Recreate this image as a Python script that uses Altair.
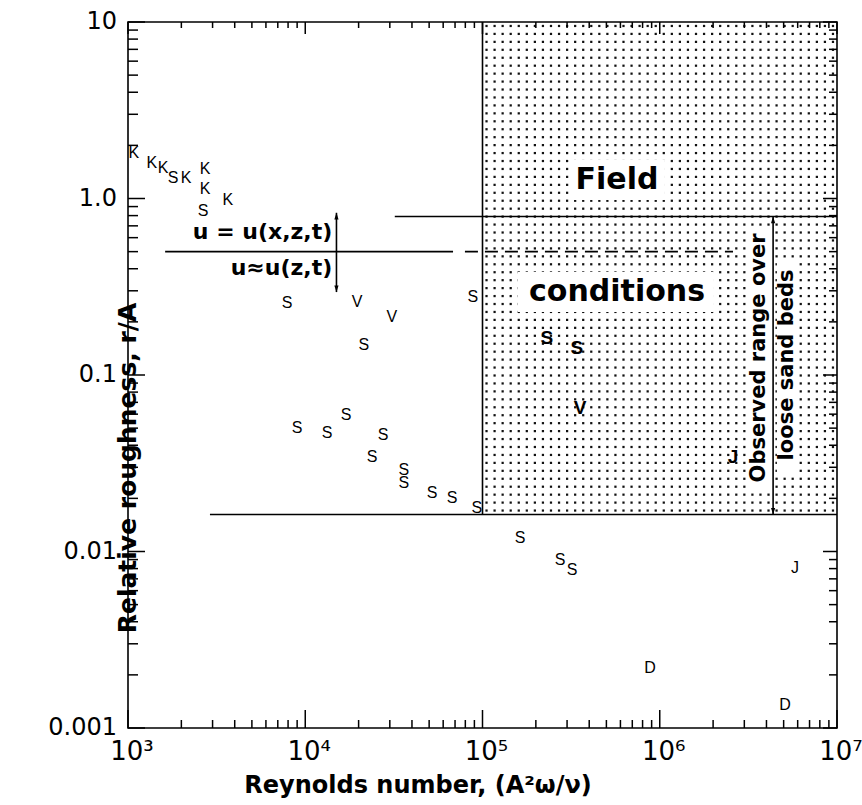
import math
import altair as alt
import pandas as pd

# ---------------- data ----------------
# laboratory / other points (thin letters)
pt_letter = ["K", "K", "K", "S", "K", "K", "K", "S", "K",
             "S", "V", "V", "S", "S",
             "S", "S", "S", "S", "S", "S", "S", "S", "S", "S",
             "S", "S", "S", "J", "D", "D"]
pt_re = [1080, 1365, 1575, 1795, 2125, 2720, 2720, 2650, 3660,
         7900, 19600, 30800, 21400, 88300,
         8980, 13300, 17000, 27500, 23800, 36000, 36000, 51900, 67300, 93000,
         163000, 274000, 320000, 5.79e6, 8.81e5, 5.09e6]
pt_rr = [1.81, 1.59, 1.49, 1.31, 1.31, 1.46, 1.13, 0.85, 0.98,
         0.256, 0.26, 0.213, 0.148, 0.277,
         0.050, 0.047, 0.059, 0.0457, 0.0343, 0.0290, 0.0244, 0.0214, 0.0201, 0.0176,
         0.0119, 0.0090, 0.0079, 0.0081, 0.0022, 0.00135]

# points lying in the field-conditions region (bold letters)
fld_letter = ["S", "S", "V", "J"]
fld_re = [231000, 341000, 355000, 2.59e6]
fld_rr = [0.162, 0.142, 0.065, 0.0343]

# stippled "field conditions" region
region_x = [1e5, 1e7]
region_y = [0.0162, 10]

# solid lines (x, x2, y, y2)
line_x = [1e5, 2900, 32000, 1620, 15000, 4.36e6]
line_x2 = [1e5, 1e7, 1e7, 68200, 15000, 4.36e6]
line_y = [0.0162, 0.0162, 0.79, 0.5, 0.295, 0.0162]
line_y2 = [10, 0.0162, 0.79, 0.5, 0.83, 0.79]

# dashed line
dash_x = [79600]
dash_x2 = [2.59e6]
dash_y = [0.5]

# arrow heads
head_x = [15000, 15000, 4.36e6, 4.36e6]
head_y = [0.83, 0.295, 0.79, 0.0162]
head_dir = ["up", "down", "up", "down"]

# annotations
lbl_u_text = ["u = u(x,z,t)", "u≈u(z,t)"]
lbl_u_x = [14200, 14200]
lbl_u_y = [0.645, 0.404]

big_text = ["Field", "conditions"]
big_x = [574000, 574000]
big_y = [1.27, 0.295]

vert_text = ["Observed range over", "loose sand beds"]
vert_x = [3.63e6, 5.22e6]
vert_y = [0.125, 0.114]

# white boxes behind the annotation texts
box_x = [312000, 158000, 3.15e6, 4.58e6]
box_x2 = [1.07e6, 2.02e6, 4.19e6, 6.03e6]
box_y = [1.65, 0.384, 0.68, 0.46]
box_y2 = [0.98, 0.2275, 0.0229, 0.0282]

# axes: tick labels, tick positions and titles
x_label_vals = [1e3, 1e4, 1e5, 1e6, 1e7]
x_label_txt = ["10³", "10⁴", "10⁵", "10⁶", "10⁷"]
y_label_vals = [0.001, 0.01, 0.1, 1, 10]
y_label_txt = ["0.001", "0.01", "0.1", "1.0", "10"]
x_tick_vals = [m * 10 ** e for e in range(3, 7) for m in range(1, 10)] + [10 ** 7]
y_tick_vals = [m * 10.0 ** e for e in range(-3, 1) for m in range(1, 10)] + [10.0]
x_title = ["Reynolds number, (A²ω/ν)"]
x_title_at = [43300]     # Reynolds number under the title's centre
y_title = ["Relative roughness, r/A"]
y_title_at = [0.1]       # r/A beside the title's centre

# ---------------- chart ----------------
W, H = 709, 706
FONT = "DejaVu Sans"
X_LO, X_HI = 1e3, 1e7
Y_LO, Y_HI = 1e-3, 10
xs = alt.Scale(type="log", domain=[X_LO, X_HI], nice=False)
ys = alt.Scale(type="log", domain=[Y_LO, Y_HI], nice=False)


def X(f):
    return alt.X(f, type="quantitative", scale=xs, axis=None)


def Y(f):
    return alt.Y(f, type="quantitative", scale=ys, axis=None)


# ---- axis labels and titles (text along the scale edges) ----
xlab = alt.Chart(pd.DataFrame({"v": x_label_vals, "t": x_label_txt,
                               "e": [Y_LO] * len(x_label_vals)})).mark_text(
    align="center", baseline="top", dy=11, dx=4, font=FONT, fontSize=26, color="black").encode(
    x=X("v"), y=Y("e"), text="t:N")

ylab = alt.Chart(pd.DataFrame({"v": y_label_vals, "t": y_label_txt,
                               "e": [X_LO] * len(y_label_vals)})).mark_text(
    align="right", baseline="middle", dx=-11, font=FONT, fontSize=24, color="black").encode(
    x=X("e"), y=Y("v"), text="t:N")

xtit = alt.Chart(pd.DataFrame({"t": x_title, "v": x_title_at, "e": [Y_LO]})).mark_text(
    align="center", baseline="middle", dy=58, font=FONT, fontSize=24, fontWeight="bold",
    color="black").encode(x=X("v"), y=Y("e"), text="t:N")

ytit = alt.Chart(pd.DataFrame({"t": y_title, "v": y_title_at, "e": [X_LO]})).mark_text(
    align="center", baseline="middle", dx=-93, angle=270, font=FONT, fontSize=25,
    fontWeight="bold", color="black").encode(x=X("e"), y=Y("v"), text="t:N")


# ---- inward tick marks on all four edges, as short rules in data space ----
def is_major(v):
    lv = math.log10(v)
    return abs(lv - round(lv)) < 1e-6


PPD_X = W / math.log10(X_HI / X_LO)   # pixels per decade
PPD_Y = H / math.log10(Y_HI / Y_LO)
tk = {"x": [], "x2": [], "y": [], "y2": []}


def add_tick(x, x2, y, y2):
    tk["x"].append(x); tk["x2"].append(x2); tk["y"].append(y); tk["y2"].append(y2)


for v in x_tick_vals:
    lb = 18 if is_major(v) else 8      # bottom edge
    lt = 12 if is_major(v) else 6      # top edge
    add_tick(v, v, Y_LO, Y_LO * 10 ** (lb / PPD_Y))
    add_tick(v, v, Y_HI, Y_HI / 10 ** (lt / PPD_Y))
for v in y_tick_vals:
    ll = 17 if is_major(v) else 10     # left edge
    lr = 14 if is_major(v) else 8      # right edge
    add_tick(X_LO, X_LO * 10 ** (ll / PPD_X), v, v)
    add_tick(X_HI, X_HI / 10 ** (lr / PPD_X), v, v)

ticks = alt.Chart(pd.DataFrame(tk)).mark_rule(color="black", strokeWidth=1.5).encode(
    x=X("x"), x2="x2:Q", y=Y("y"), y2="y2:Q")

# ---- stipple texture filling the field region ----
NC, NR = 44, 62
lx0, lx1 = math.log10(region_x[0]), math.log10(region_x[1])
ly0, ly1 = math.log10(region_y[0]), math.log10(region_y[1])
dots = alt.Chart(alt.sequence(0, NC * NR, as_="i")).transform_calculate(
    col=f"datum.i % {NC}", row=f"floor(datum.i / {NC})"
).transform_calculate(
    dx=f"pow(10, {lx0} + ({lx1} - {lx0}) * (datum.col + 0.5) / {NC})",
    dy=f"pow(10, {ly0} + ({ly1} - {ly0}) * (datum.row + 0.5) / {NR})",
).mark_square(size=5, color="#111", opacity=1).encode(x=X("dx"), y=Y("dy"))

boxes = alt.Chart(pd.DataFrame({"x": box_x, "x2": box_x2, "y": box_y, "y2": box_y2})).mark_rect(
    fill="white").encode(x=X("x"), x2="x2:Q", y=Y("y"), y2="y2:Q")

lines = alt.Chart(pd.DataFrame({"x": line_x, "x2": line_x2, "y": line_y, "y2": line_y2})).mark_rule(
    color="black", strokeWidth=1.6).encode(x=X("x"), x2="x2:Q", y=Y("y"), y2="y2:Q")

dashed = alt.Chart(pd.DataFrame({"x": dash_x, "x2": dash_x2, "y": dash_y})).mark_rule(
    color="black", strokeWidth=1.6, strokeDash=[13, 7]).encode(x=X("x"), x2="x2:Q", y=Y("y"))

head_df = pd.DataFrame({"x": head_x, "y": head_y, "d": head_dir})
heads_up = alt.Chart(head_df).transform_filter("datum.d == 'up'").mark_point(
    shape="M0,0L-0.7,2.2L0.7,2.2Z", size=36, filled=True, color="black", opacity=1).encode(
    x=X("x"), y=Y("y"))
heads_down = alt.Chart(head_df).transform_filter("datum.d == 'down'").mark_point(
    shape="M0,0L-0.7,-2.2L0.7,-2.2Z", size=36, filled=True, color="black", opacity=1).encode(
    x=X("x"), y=Y("y"))

u_text = alt.Chart(pd.DataFrame({"t": lbl_u_text, "x": lbl_u_x, "y": lbl_u_y})).mark_text(
    align="right", baseline="middle", font=FONT, fontSize=22, fontWeight="bold", color="black").encode(
    x=X("x"), y=Y("y"), text="t:N")

big = alt.Chart(pd.DataFrame({"t": big_text, "x": big_x, "y": big_y})).mark_text(
    align="center", baseline="middle", font=FONT, fontSize=30, fontWeight="bold", color="black").encode(
    x=X("x"), y=Y("y"), text="t:N")

vert = alt.Chart(pd.DataFrame({"t": vert_text, "x": vert_x, "y": vert_y})).mark_text(
    align="center", baseline="middle", angle=270, font=FONT, fontSize=21, fontWeight="bold",
    color="black").encode(x=X("x"), y=Y("y"), text="t:N")

pts = alt.Chart(pd.DataFrame({"t": pt_letter, "x": pt_re, "y": pt_rr})).mark_text(
    align="center", baseline="middle", font="Liberation Sans", fontSize=16, color="black").encode(
    x=X("x"), y=Y("y"), text="t:N")

fld = alt.Chart(pd.DataFrame({"t": fld_letter, "x": fld_re, "y": fld_rr})).mark_text(
    align="center", baseline="middle", font="Liberation Sans", fontSize=19, fontWeight="bold",
    color="black").encode(x=X("x"), y=Y("y"), text="t:N")

chart = alt.layer(
    dots, boxes, lines, ticks, dashed, heads_up, heads_down, u_text, big, vert, pts, fld,
    xlab, ylab, xtit, ytit
).properties(
    width=W, height=H,
    autosize=alt.AutoSizeParams(type="none"),
    padding={"left": 128, "top": 22, "right": 25, "bottom": 77},
    background="white",
).configure_view(stroke="black", strokeWidth=1.6)

chart.save("out.html", embed_options={"renderer": "svg", "actions": False})
